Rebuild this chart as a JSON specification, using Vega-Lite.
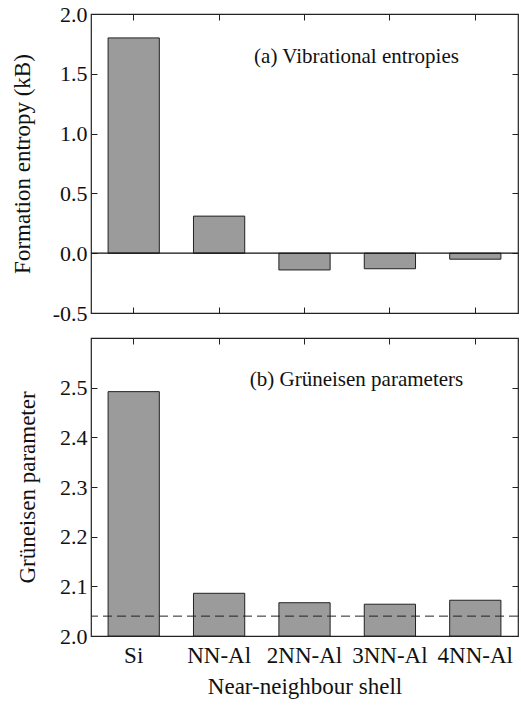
{
  "$schema": "https://vega.github.io/schema/vega-lite/v6.json",
  "padding": {"left": 10, "top": 2, "right": 1, "bottom": 5},
  "spacing": 11,
  "background": "white",
  "config": {
    "font": "Liberation Serif",
    "view": {"stroke": "#222", "strokeWidth": 1.2},
    "text": {"font": "Liberation Serif"},
    "axis": {
      "domain": false,
      "grid": false,
      "tickSize": -6,
      "tickColor": "#222",
      "tickWidth": 1,
      "labelFont": "Liberation Serif",
      "labelFontSize": 22,
      "labelColor": "#111",
      "labelPadding": 10,
      "titleFont": "Liberation Serif",
      "titleFontSize": 23,
      "titleFontWeight": "normal",
      "titleColor": "#111"
    }
  },
  "datasets": {
    "entropy": [
      {"shell": "Si", "value": 1.80},
      {"shell": "NN-Al", "value": 0.31},
      {"shell": "2NN-Al", "value": -0.14},
      {"shell": "3NN-Al", "value": -0.13},
      {"shell": "4NN-Al", "value": -0.05}
    ],
    "gruneisen": [
      {"shell": "Si", "value": 2.492},
      {"shell": "NN-Al", "value": 2.086},
      {"shell": "2NN-Al", "value": 2.067},
      {"shell": "3NN-Al", "value": 2.064},
      {"shell": "4NN-Al", "value": 2.072}
    ],
    "one": [{}]
  },
  "vconcat": [
    {
      "width": 427,
      "height": 299,
      "resolve": {"axis": {"x": "independent", "y": "independent"}},
      "layer": [
        {
          "data": {"name": "entropy"},
          "mark": {"type": "bar", "fill": "#9b9b9b", "stroke": "#222", "strokeWidth": 1, "clip": true},
          "encoding": {
            "x": {
              "field": "shell", "type": "nominal",
              "sort": ["Si", "NN-Al", "2NN-Al", "3NN-Al", "4NN-Al"],
              "scale": {"paddingInner": 0.4, "paddingOuter": 0.2},
              "axis": {"orient": "bottom", "labels": false, "title": null}
            },
            "y": {
              "field": "value", "type": "quantitative",
              "scale": {"domain": [-0.5, 2.0], "nice": false, "zero": false},
              "axis": {
                "orient": "left",
                "values": [-0.5, 0, 0.5, 1, 1.5, 2],
                "format": ".1f",
                "labelExpr": "replace(datum.label, '\u2212', '-')",
                "title": "Formation entropy (kB)",
                "titlePadding": 18
              }
            },
            "y2": {"datum": 0}
          }
        },
        {
          "data": {"name": "entropy"},
          "mark": {"type": "point", "opacity": 0},
          "encoding": {
            "x": {
              "field": "shell", "type": "nominal",
              "sort": ["Si", "NN-Al", "2NN-Al", "3NN-Al", "4NN-Al"],
              "axis": {"orient": "top", "labels": false, "title": null}
            },
            "y": {
              "field": "value", "type": "quantitative",
              "axis": {"orient": "right", "labels": false, "title": null, "values": [-0.5, 0, 0.5, 1, 1.5, 2]}
            }
          }
        },
        {
          "data": {"name": "one"},
          "mark": {"type": "rule", "color": "#111", "strokeWidth": 1.2},
          "encoding": {"y": {"datum": 0, "axis": null}}
        },
        {
          "data": {"name": "one"},
          "mark": {"type": "text", "font": "Liberation Serif", "fontSize": 21, "color": "#111", "align": "center", "baseline": "middle", "dx": 52},
          "encoding": {
            "x": {"datum": "2NN-Al", "axis": null},
            "y": {"datum": 1.64, "axis": null},
            "text": {"value": "(a) Vibrational entropies"}
          }
        }
      ]
    },
    {
      "width": 427,
      "height": 298,
      "resolve": {"axis": {"x": "independent", "y": "independent"}},
      "layer": [
        {
          "data": {"name": "gruneisen"},
          "mark": {"type": "bar", "fill": "#9b9b9b", "stroke": "#222", "strokeWidth": 1, "clip": true},
          "encoding": {
            "x": {
              "field": "shell", "type": "nominal",
              "sort": ["Si", "NN-Al", "2NN-Al", "3NN-Al", "4NN-Al"],
              "scale": {"paddingInner": 0.4, "paddingOuter": 0.2},
              "axis": {"orient": "bottom", "labelAngle": 0, "labelFontSize": 23, "labelPadding": 14, "title": "Near-neighbour shell", "titlePadding": 8}
            },
            "y": {
              "field": "value", "type": "quantitative",
              "scale": {"domain": [2.0, 2.6], "nice": false, "zero": false},
              "axis": {
                "orient": "left",
                "values": [2.0, 2.1, 2.2, 2.3, 2.4, 2.5],
                "format": ".1f",
                "title": "Grüneisen parameter",
                "titlePadding": 20
              }
            },
            "y2": {"datum": 2.0}
          }
        },
        {
          "data": {"name": "gruneisen"},
          "mark": {"type": "point", "opacity": 0},
          "encoding": {
            "x": {
              "field": "shell", "type": "nominal",
              "sort": ["Si", "NN-Al", "2NN-Al", "3NN-Al", "4NN-Al"],
              "axis": {"orient": "top", "labels": false, "title": null}
            },
            "y": {
              "field": "value", "type": "quantitative",
              "axis": {"orient": "right", "labels": false, "title": null, "values": [2.0, 2.1, 2.2, 2.3, 2.4, 2.5]}
            }
          }
        },
        {
          "data": {"name": "one"},
          "mark": {"type": "rule", "color": "#222", "strokeWidth": 1, "strokeDash": [9, 5]},
          "encoding": {"y": {"datum": 2.04, "axis": null}}
        },
        {
          "data": {"name": "one"},
          "mark": {"type": "text", "font": "Liberation Serif", "fontSize": 21, "color": "#111", "align": "center", "baseline": "middle", "dx": 52},
          "encoding": {
            "x": {"datum": "2NN-Al", "axis": null},
            "y": {"datum": 2.516, "axis": null},
            "text": {"value": "(b) Grüneisen parameters"}
          }
        }
      ]
    }
  ]
}
